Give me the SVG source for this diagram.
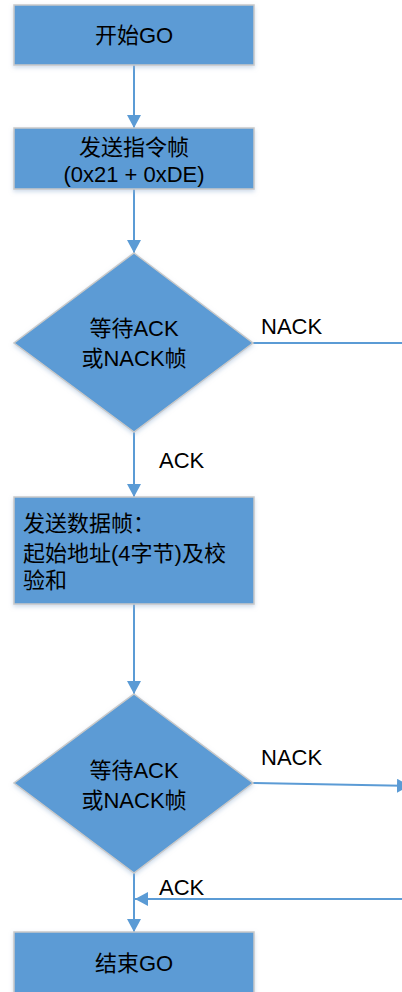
<svg xmlns="http://www.w3.org/2000/svg" width="402" height="992" viewBox="0 0 402 992">
<style>
.n{fill:#5B9BD5;stroke:#C9C9C9;stroke-width:1.5;filter:url(#sh)}
.t{font-family:"Liberation Sans","Noto Sans CJK SC",sans-serif;font-size:22px;fill:#000}
.c{text-anchor:middle}
.e{fill:none;stroke:#5B9BD5;stroke-width:2}
</style>
<defs>
<filter id="sh" x="-10%" y="-10%" width="120%" height="130%">
<feDropShadow dx="0" dy="2" stdDeviation="2" flood-color="#9DB8D6" flood-opacity="0.5"/>
</filter>
<marker id="ar" markerUnits="userSpaceOnUse" markerWidth="14" markerHeight="14" refX="13" refY="7" orient="auto">
<path d="M0,0 L13,7 L0,14 z" fill="#5B9BD5"/>
</marker>
</defs>
<rect width="402" height="992" fill="#fff"/>
<g id="connectors">
<path class="e" d="M134,65 V128" marker-end="url(#ar)"/>
<path class="e" d="M134,189 V253" marker-end="url(#ar)"/>
<path class="e" d="M253,343 H402"/>
<text class="t" x="261" y="334">NACK</text>
<path class="e" d="M134,432 V497" marker-end="url(#ar)"/>
<text class="t" x="159" y="468">ACK</text>
<path class="e" d="M134,604 V694" marker-end="url(#ar)"/>
<path class="e" d="M253,783 L410,786" marker-end="url(#ar)"/>
<text class="t" x="261" y="765">NACK</text>
<path class="e" d="M410,899 H135" marker-end="url(#ar)"/>
<text class="t" x="159" y="895">ACK</text>
<path class="e" d="M134,873 V932" marker-end="url(#ar)"/>
</g>
<g id="start">
<rect class="n" x="14" y="5" width="240" height="60"/>
<text class="t c" x="134" y="43">开始GO</text>
</g>
<g id="send-cmd">
<rect class="n" x="14" y="128" width="240" height="61"/>
<text class="t c" x="134" y="155">发送指令帧</text>
<text class="t c" x="134" y="182">(0x21 + 0xDE)</text>
</g>
<g id="wait1">
<polygon class="n" points="134,253 253,343 134,432 14,343"/>
<text class="t c" x="134" y="336">等待ACK</text>
<text class="t c" x="134" y="366">或NACK帧</text>
</g>
<g id="send-data">
<rect class="n" x="14" y="497" width="240" height="107"/>
<text class="t" x="23" y="531">发送数据帧：</text>
<text class="t" x="23" y="561">起始地址(4字节)及校</text>
<text class="t" x="23" y="588">验和</text>
</g>
<g id="wait2">
<polygon class="n" points="134,694 253,783 134,873 14,783"/>
<text class="t c" x="134" y="778">等待ACK</text>
<text class="t c" x="134" y="808">或NACK帧</text>
</g>
<g id="end">
<rect class="n" x="14" y="932" width="240" height="70"/>
<text class="t c" x="134" y="971">结束GO</text>
</g>
</svg>
